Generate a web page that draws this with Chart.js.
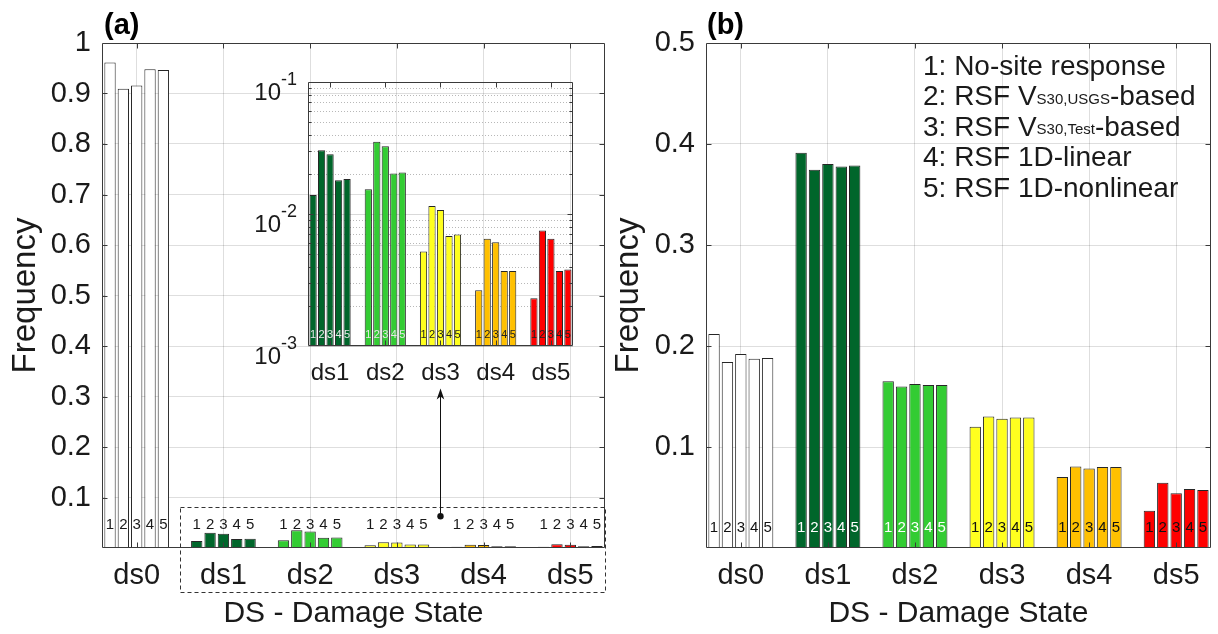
<!DOCTYPE html>
<html>
<head>
<meta charset="utf-8">
<script src="https://cdn.jsdelivr.net/npm/chart.js@4/dist/chart.umd.min.js"></script>
<style>
  html, body { margin: 0; padding: 0; background: #ffffff; }
  #wrap { position: relative; width: 1218px; height: 634px; overflow: hidden; background: #ffffff; }
  canvas { position: absolute; }
  #cA { left: 0; top: 0; }
  #cB { left: 608px; top: 0; }
  #cIn { left: 240px; top: 70px; }
</style>
</head>
<body>
<div id="wrap">
  <canvas id="cA" width="610" height="634"></canvas>
  <canvas id="cB" width="610" height="634"></canvas>
  <canvas id="cIn" width="345" height="320"></canvas>
</div>
<script>
const FONT = "'Liberation Sans', Arial, Helvetica, sans-serif";
const TXT = '#1a1a1a';
const GRID = 'rgba(0,0,0,0.13)';
const EDGE = '#262626';

// Damage states and the five modelling approaches
const damageStates = ['ds0', 'ds1', 'ds2', 'ds3', 'ds4', 'ds5'];
const modelTags = ['1', '2', '3', '4', '5'];
const modelNames = ['No-site response', 'RSF V_{S30,USGS}-based', 'RSF V_{S30,Test}-based', 'RSF 1D-linear', 'RSF 1D-nonlinear'];
const stateColors = ['#ffffff', '#00662b', '#33cc33', '#ffff1f', '#ffc000', '#ff0000'];

// (a) frequency of each damage state, one array per approach
const freqA_1 = [0.9616, 0.0139, 0.0154, 0.0052, 0.00265, 0.0023];
const freqA_2 = [0.9095, 0.0304, 0.0352, 0.0115, 0.0065, 0.0075];
const freqA_3 = [0.9160, 0.0284, 0.0326, 0.0107, 0.0061, 0.0065];
const freqA_4 = [0.9480, 0.0180, 0.0203, 0.0068, 0.0037, 0.0037];
const freqA_5 = [0.9465, 0.0184, 0.0206, 0.0070, 0.0037, 0.0038];

// (b) frequency of each damage state, one array per approach
const freqB_1 = [0.2119, 0.3914, 0.1650, 0.1201, 0.0703, 0.0369];
const freqB_2 = [0.1842, 0.3746, 0.1600, 0.1303, 0.0808, 0.0647];
const freqB_3 = [0.1921, 0.3802, 0.1624, 0.1280, 0.0788, 0.0541];
const freqB_4 = [0.1874, 0.3778, 0.1614, 0.1293, 0.0802, 0.0584];
const freqB_5 = [0.1881, 0.3788, 0.1614, 0.1293, 0.0802, 0.0574];

// Axis ticks
const yTicksA = [0.1, 0.2, 0.3, 0.4, 0.5, 0.6, 0.7, 0.8, 0.9, 1];
const yTickLabelsA = ['0.1', '0.2', '0.3', '0.4', '0.5', '0.6', '0.7', '0.8', '0.9', '1'];
const yTicksB = [0.1, 0.2, 0.3, 0.4, 0.5];
const yTickLabelsB = ['0.1', '0.2', '0.3', '0.4', '0.5'];
const insetMajorTicks = [0.001, 0.01, 0.1];
const insetTickExponents = ['-3', '-2', '-1'];
const insetMinorMultipliers = [2, 3, 4, 5, 6, 7, 8, 9];

const seriesA = [freqA_1, freqA_2, freqA_3, freqA_4, freqA_5];
const seriesB = [freqB_1, freqB_2, freqB_3, freqB_4, freqB_5];

function buildDatasets(series, colors) {
  return series.map((vals, d) => ({
    label: modelTags[d],
    data: vals.map((v, i) => ({ x: i, y: v })),
    backgroundColor: colors,
    borderColor: EDGE,
    borderWidth: 1,
    borderSkipped: false,
    categoryPercentage: 0.769,
    barPercentage: 0.85
  }));
}

function catScale(labels, fontSize, pad, height, showGrid) {
  return {
    type: 'linear',
    offset: false,
    min: -0.4,
    max: labels.length - 0.6,
    afterBuildTicks: s => { s.ticks = labels.map((_, i) => ({ value: i })); },
    afterFit: s => { s.height = height; },
    ticks: {
      callback: v => labels[Math.round(v)],
      font: { family: FONT, size: fontSize },
      color: TXT, padding: pad, maxRotation: 0, autoSkip: false
    },
    grid: { display: showGrid, offset: false, color: GRID, drawTicks: false },
    border: { display: false }
  };
}

function valueScale(max, ticks, labels, width, titlePad) {
  return {
    type: 'linear',
    min: 0,
    max: max,
    afterBuildTicks: s => { s.ticks = ticks.map(v => ({ value: v })); },
    afterFit: s => { s.width = width; },
    ticks: {
      callback: (v, i) => labels[i],
      font: { family: FONT, size: 29 },
      color: TXT, padding: 11
    },
    grid: { color: GRID, drawTicks: false },
    border: { display: false },
    title: {
      display: true, text: 'Frequency', color: TXT,
      font: { family: FONT, size: 33, lineHeight: 1 },
      padding: { top: titlePad, bottom: 0 }
    }
  };
}

// Axes box with inward tick marks on all four sides
const framePlugin = {
  id: 'frame',
  afterDatasetsDraw(chart, args, opts) {
    const { ctx, chartArea: a, scales: { x, y } } = chart;
    const L = Math.round(a.left) + 0.5, R = Math.round(a.right) - 0.5;
    const T = Math.round(a.top) + 0.5, B = Math.round(a.bottom) - 0.5;
    ctx.save();
    ctx.strokeStyle = '#3a3a3a';
    ctx.lineWidth = 1;
    ctx.beginPath();
    ctx.rect(L, T, R - L, B - T);
    ctx.stroke();
    ctx.beginPath();
    const tl = opts.tickLength || 5;
    x.ticks.forEach(t => {
      const px = Math.round(x.getPixelForValue(t.value)) + 0.5;
      ctx.moveTo(px, B); ctx.lineTo(px, B - tl);
      ctx.moveTo(px, T); ctx.lineTo(px, T + tl);
    });
    y.ticks.forEach(t => {
      const py = Math.round(y.getPixelForValue(t.value)) + 0.5;
      const len = opts.minorOf && !opts.minorOf(t.value) ? tl * 0.6 : tl;
      if (py < T + 1 || py > B - 1) return;
      ctx.moveTo(L, py); ctx.lineTo(L + len, py);
      ctx.moveTo(R, py); ctx.lineTo(R - len, py);
    });
    ctx.stroke();
    ctx.restore();
  }
};

// Approach numbers written on each bar
const tagPlugin = {
  id: 'tags',
  afterDatasetsDraw(chart, args, opts) {
    const { ctx, scales: { y } } = chart;
    const py = y.getPixelForValue(opts.at);
    ctx.save();
    ctx.font = `${opts.size}px ${FONT}`;
    ctx.textAlign = 'center';
    ctx.textBaseline = 'middle';
    chart.data.datasets.forEach((ds, d) => {
      chart.getDatasetMeta(d).data.forEach((el, i) => {
        ctx.fillStyle = opts.colors[i];
        ctx.fillText(ds.label, el.x, py);
      });
    });
    ctx.restore();
  }
};

const panelLabelPlugin = {
  id: 'panelLabel',
  afterDraw(chart, args, opts) {
    const { ctx, chartArea: a } = chart;
    ctx.save();
    ctx.font = `bold 29px ${FONT}`;
    ctx.fillStyle = '#000';
    ctx.textAlign = 'left';
    ctx.textBaseline = 'middle';
    ctx.fillText(opts.text, a.left + opts.dx, 26);
    ctx.restore();
  }
};

// Dashed frame round the small bars of (a) and the pointer to the log inset
const zoomMarkPlugin = {
  id: 'zoomMark',
  afterDraw(chart) {
    const { ctx, chartArea: a, scales: { x, y } } = chart;
    const left = Math.round(x.getPixelForValue(0.5)) + 0.5;
    const right = Math.round(a.right) + 0.5;
    const top = Math.round(y.getPixelForValue(0.082)) + 0.5;
    const bottom = Math.round(a.bottom + 44) + 0.5;
    ctx.save();
    ctx.strokeStyle = '#333';
    ctx.lineWidth = 1;
    ctx.setLineDash([4, 3]);
    ctx.strokeRect(left, top, right - left, bottom - top);
    ctx.setLineDash([]);
    const ax = Math.round(x.getPixelForValue(3.5)) + 0.5;
    const y0 = y.getPixelForValue(0.063);
    const y1 = y.getPixelForValue(0.316);
    ctx.strokeStyle = '#111';
    ctx.fillStyle = '#111';
    ctx.beginPath();
    ctx.moveTo(ax, y0); ctx.lineTo(ax, y1 + 6);
    ctx.stroke();
    ctx.beginPath();
    ctx.arc(ax, y0, 3.2, 0, Math.PI * 2);
    ctx.fill();
    ctx.beginPath();
    ctx.moveTo(ax, y1);
    ctx.lineTo(ax - 3.8, y1 + 11);
    ctx.lineTo(ax, y1 + 8);
    ctx.lineTo(ax + 3.8, y1 + 11);
    ctx.closePath();
    ctx.fill();
    ctx.restore();
  }
};

// Key of the five approaches, with subscripts
const keyPlugin = {
  id: 'key',
  afterDraw(chart) {
    const { ctx, chartArea: a } = chart;
    ctx.save();
    ctx.fillStyle = TXT;
    ctx.textAlign = 'left';
    ctx.textBaseline = 'alphabetic';
    modelNames.forEach((name, i) => {
      const base = a.top + 32 + i * 30.4;
      let xx = a.left + 217;
      const parts = (modelTags[i] + ': ' + name).split(/_\{([^}]*)\}/);
      parts.forEach((p, k) => {
        const sub = k % 2 === 1;
        ctx.font = sub ? `15px ${FONT}` : `28px ${FONT}`;
        ctx.fillText(p, xx, sub ? base - 1.5 : base);
        xx += ctx.measureText(p).width;
      });
    });
    ctx.restore();
  }
};

// Log-scale grid and 10^n labels of the inset
const logGridPlugin = {
  id: 'logGrid',
  beforeDatasetsDraw(chart) {
    const { ctx, chartArea: a, scales: { y } } = chart;
    ctx.save();
    ctx.lineWidth = 1;
    y.ticks.forEach(t => {
      const py = Math.round(y.getPixelForValue(t.value)) + 0.5;
      const major = insetMajorTicks.some(m => Math.abs(m - t.value) < 1e-9);
      ctx.strokeStyle = major ? 'rgba(0,0,0,0.15)' : 'rgba(0,0,0,0.28)';
      ctx.setLineDash(major ? [] : [1, 2]);
      ctx.beginPath();
      ctx.moveTo(a.left, py); ctx.lineTo(a.right, py);
      ctx.stroke();
    });
    ctx.restore();
  },
  afterDraw(chart) {
    const { ctx, chartArea: a, scales: { y } } = chart;
    ctx.save();
    ctx.fillStyle = TXT;
    ctx.textAlign = 'right';
    ctx.textBaseline = 'alphabetic';
    insetMajorTicks.forEach((v, i) => {
      const py = y.getPixelForValue(v);
      const xr = a.left - 11;
      ctx.font = `18px ${FONT}`;
      const e = insetTickExponents[i];
      ctx.fillText(e, xr, py + 3);
      const w = ctx.measureText(e).width;
      ctx.font = `24px ${FONT}`;
      ctx.fillText('10', xr - w, py + 17.5);
    });
    ctx.restore();
  }
};

const common = {
  responsive: false,
  animation: false,
  events: [],
  plugins: { legend: { display: false }, tooltip: { enabled: false } }
};

// Panel (a)
new Chart(document.getElementById('cA'), {
  type: 'bar',
  data: { datasets: buildDatasets(seriesA, stateColors) },
  options: Object.assign({}, common, {
    layout: { padding: { left: 0, right: 5, top: 43, bottom: 0 } },
    scales: {
      x: Object.assign(catScale(damageStates, 29, 11, 86, true), {
        title: {
          display: true, text: 'DS - Damage State', color: TXT,
          font: { family: FONT, size: 30, lineHeight: 1 },
          padding: { top: 0, bottom: 5 }
        }
      }),
      y: valueScale(1, yTicksA, yTickLabelsA, 102, 9)
    },
    plugins: Object.assign({}, common.plugins, {
      frame: { tickLength: 5 },
      tags: { at: 0.046, size: 15, colors: ['#1a1a1a', '#1a1a1a', '#1a1a1a', '#1a1a1a', '#1a1a1a', '#1a1a1a'] },
      panelLabel: { text: '(a)', dx: 2 }
    })
  }),
  plugins: [framePlugin, tagPlugin, panelLabelPlugin, zoomMarkPlugin]
});

// Panel (b)
new Chart(document.getElementById('cB'), {
  type: 'bar',
  data: { datasets: buildDatasets(seriesB, stateColors) },
  options: Object.assign({}, common, {
    layout: { padding: { left: 0, right: 7, top: 43, bottom: 0 } },
    scales: {
      x: Object.assign(catScale(damageStates, 29, 11, 86, true), {
        title: {
          display: true, text: 'DS - Damage State', color: TXT,
          font: { family: FONT, size: 30, lineHeight: 1 },
          padding: { top: 0, bottom: 5 }
        }
      }),
      y: valueScale(0.5, yTicksB, yTickLabelsB, 98, 4.5)
    },
    plugins: Object.assign({}, common.plugins, {
      frame: { tickLength: 5 },
      tags: { at: 0.02, size: 15, colors: ['#111', '#ffffff', '#ffffff', '#111', '#111', '#111'] },
      panelLabel: { text: '(b)', dx: 1 }
    })
  }),
  plugins: [framePlugin, tagPlugin, panelLabelPlugin, keyPlugin]
});

// Inset of (a): damage states 1-5 on a log axis
const insetStates = damageStates.slice(1);
new Chart(document.getElementById('cIn'), {
  type: 'bar',
  data: { datasets: buildDatasets(seriesA.map(s => s.slice(1)), stateColors.slice(1)) },
  options: Object.assign({}, common, {
    layout: { padding: { left: 0, right: 12, top: 12, bottom: 0 } },
    scales: {
      x: catScale(insetStates, 24, 13, 44, false),
      y: {
        type: 'logarithmic',
        min: 0.001,
        max: 0.1,
        afterBuildTicks: s => {
          const t = [];
          insetMajorTicks.forEach((m, i) => {
            t.push({ value: m });
            if (i < insetMajorTicks.length - 1) insetMinorMultipliers.forEach(k => t.push({ value: +(k * m).toPrecision(3) }));
          });
          s.ticks = t;
        },
        afterFit: s => { s.width = 68; },
        ticks: { display: false },
        grid: { display: false },
        border: { display: false }
      }
    },
    plugins: Object.assign({}, common.plugins, {
      frame: { tickLength: 5, minorOf: v => insetMajorTicks.some(m => Math.abs(m - v) < 1e-9) },
      tags: { at: 0.00121, size: 11, colors: ['#e6e6e6', '#e6e6e6', '#222', '#222', '#222'] }
    })
  }),
  plugins: [logGridPlugin, framePlugin, tagPlugin]
});
</script>
</body>
</html>
